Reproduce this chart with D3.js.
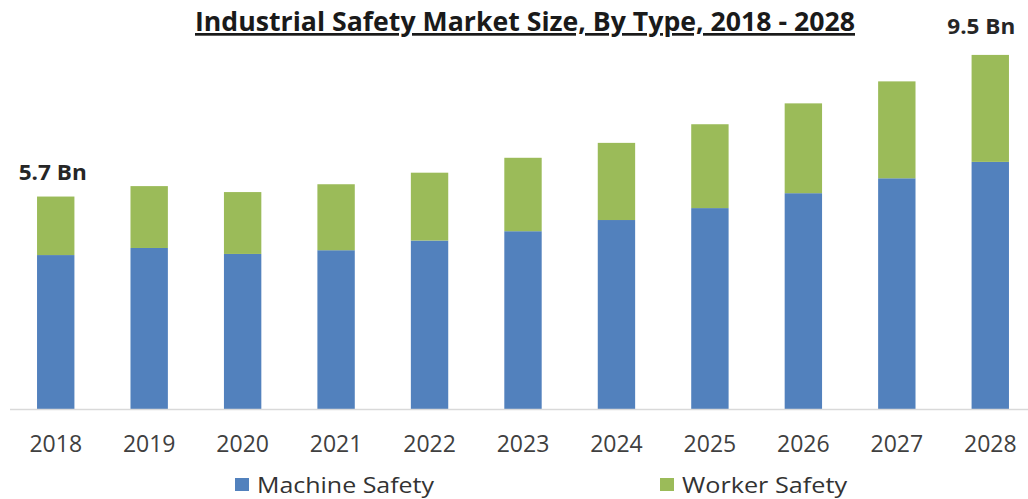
<!DOCTYPE html>
<html>
<head>
<meta charset="utf-8">
<script src="https://cdn.jsdelivr.net/npm/d3@7"></script>
<style>
  html, body { margin: 0; padding: 0; background: #fff; }
  svg { display: block; }
</style>
</head>
<body>
<svg id="chart" width="1028" height="499"></svg>
<script>
// Industrial safety market size by type (USD Bn)
const years = ["2018", "2019", "2020", "2021", "2022", "2023", "2024", "2025", "2026", "2027", "2028"];
const machineSafety = [4.13, 4.32, 4.16, 4.26, 4.52, 4.77, 5.07, 5.39, 5.79, 6.19, 6.63];
const workerSafety  = [1.57, 1.66, 1.66, 1.77, 1.82, 1.97, 2.07, 2.25, 2.41, 2.60, 2.87];
const seriesNames = ["Machine Safety", "Worker Safety"];
const seriesColors = ["#5281BD", "#9BBB59"];
const calloutYears = ["2018", "2028"];
const calloutText = ["5.7 Bn", "9.5 Bn"];

const svg = d3.select("#chart");
const W = 1028, H = 499;
const baseY = 409;

const rows = years.map((y, i) => ({ year: y, machine: machineSafety[i], worker: workerSafety[i] }));
const stack = d3.stack().keys(["machine", "worker"]);
const layers = stack(rows);

const x = d3.scaleBand()
  .domain(years)
  .range([9, 1037])
  .paddingInner(0.6)
  .paddingOuter(0.3);

// 0..11 Bn over 410 px
const y = d3.scaleLinear().domain([0, 11]).range([baseY, baseY - 410]);

// Title
svg.append("text")
  .attr("x", 525)
  .attr("y", 31)
  .attr("text-anchor", "middle")
  .attr("font-family", "'Open Sans', 'DejaVu Sans', sans-serif")
  .attr("font-weight", "bold")
  .attr("font-size", 27)
  .attr("fill", "#1a1a1a")
  .attr("textLength", 660)
  .attr("lengthAdjust", "spacingAndGlyphs")
  .attr("text-decoration", "underline")
  .text("Industrial Safety Market Size, By Type, 2018 - 2028");

// Stacked bars
svg.append("g")
  .selectAll("g")
  .data(layers)
  .join("g")
  .attr("fill", (d, i) => seriesColors[i])
  .selectAll("rect")
  .data(d => d)
  .join("rect")
  .attr("x", d => x(d.data.year))
  .attr("width", x.bandwidth())
  .attr("y", d => y(d[1]))
  .attr("height", d => y(d[0]) - y(d[1]));

// X axis
const xAxis = svg.append("g")
  .attr("transform", `translate(0,${baseY})`)
  .call(d3.axisBottom(x).tickSize(0).tickPadding(27));
xAxis.select(".domain").attr("stroke", "#d9d9d9").attr("stroke-width", 1.5)
  .attr("d", `M10,0.5H${W}`);
xAxis.selectAll(".tick text")
  .attr("font-family", "'Open Sans', 'DejaVu Sans', sans-serif")
  .attr("font-size", 23)
  .attr("fill", "#404040");

// Total callouts above first and last bars
const totals = rows.map(r => r.machine + r.worker);
calloutYears.forEach((yr, i) => {
  const idx = years.indexOf(yr);
  svg.append("text")
    .attr("x", x(yr) + x.bandwidth() / 2 + (i === 0 ? -3 : -9))
    .attr("y", y(totals[idx]) - (i === 0 ? 17 : 21))
    .attr("text-anchor", "middle")
    .attr("font-family", "'Open Sans', 'DejaVu Sans', sans-serif")
    .attr("font-weight", "bold")
    .attr("font-size", 21)
    .attr("fill", "#262626")
    .attr("textLength", 68)
    .attr("lengthAdjust", "spacingAndGlyphs")
    .text(calloutText[i]);
});

// Legend
const legendX = [235, 660];
const legendTextLen = [177, 165];
const legend = svg.append("g");
seriesNames.forEach((name, i) => {
  legend.append("rect")
    .attr("x", legendX[i])
    .attr("y", 478)
    .attr("width", 14)
    .attr("height", 13)
    .attr("fill", seriesColors[i]);
  legend.append("text")
    .attr("x", legendX[i] + 22)
    .attr("y", 493)
    .attr("font-family", "'Open Sans', 'DejaVu Sans', sans-serif")
    .attr("font-size", 21)
    .attr("fill", "#333")
    .attr("textLength", legendTextLen[i])
    .attr("lengthAdjust", "spacingAndGlyphs")
    .text(name);
});
</script>
</body>
</html>
